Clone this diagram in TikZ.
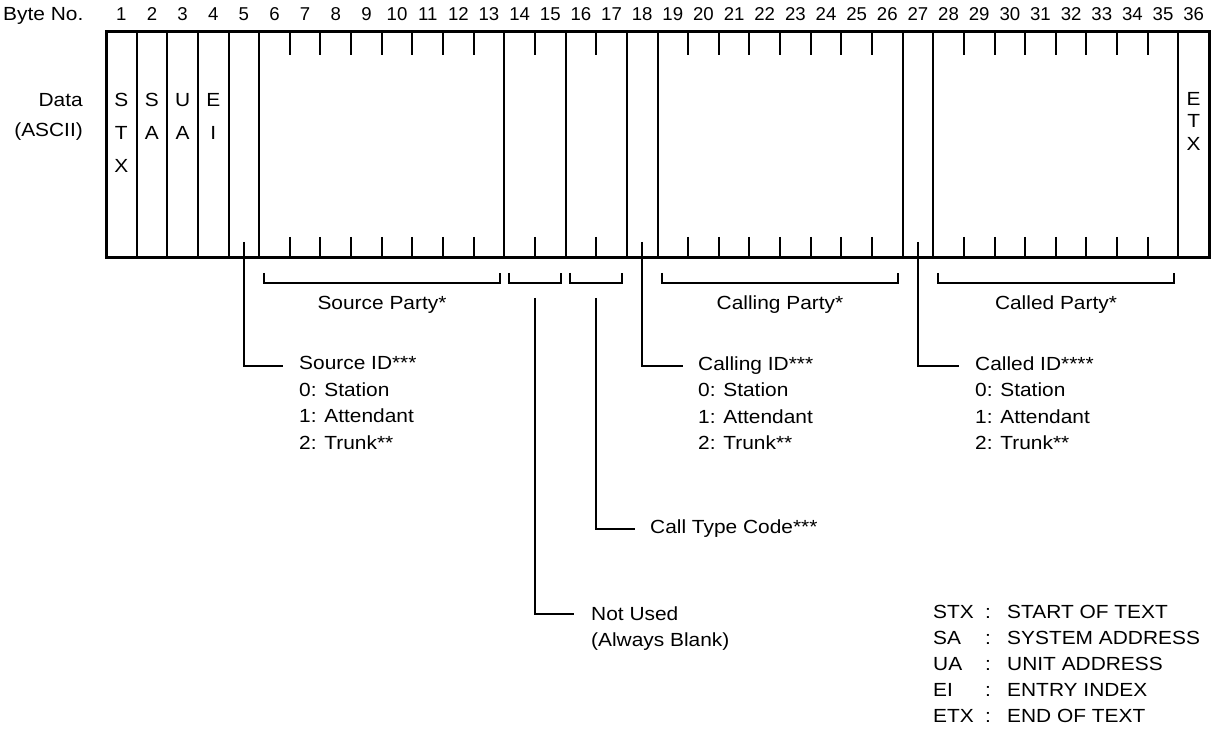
\documentclass[tikz,border=0pt]{standalone}
\usepackage{fontspec}
\setmainfont{Liberation Sans}[FakeStretch=1.1]
\newfontfamily\numfont{Liberation Sans}
\usetikzlibrary{positioning}

\def\cw{30.639}

\tikzset{
  txt/.style={font=\fontsize{19}{26.5}\selectfont, inner sep=0pt, align=left},
  numtxt/.style={font=\numfont\fontsize{18.6}{22}\selectfont, inner sep=0pt, anchor=base},
  cellltr/.style={font=\fontsize{19}{33}\selectfont, inner sep=0pt, align=center, anchor=north},
  legtxt/.style={txt, anchor=north west, font=\fontsize{19}{26}\selectfont},
  frame/.style={line width=3pt},
  divider/.style={line width=2pt},
  conn/.style={line width=2pt}
}

\begin{document}
\begin{tikzpicture}[x=1pt, y=-1pt]
  \useasboundingbox (0,0) rectangle (1211,730);

  % Byte numbers
  \node[txt, anchor=base west] (byteno) at (3,20.8) {Byte No.};
  \foreach \i in {1,...,36}
    \node[numtxt] (n\i) at ({106+(\i-0.5)*\cw},20.8) {\i};

  % Cadre
  \draw[frame] (106,32) rectangle (1209,258);
  \foreach \b in {1,2,3,4,5,13,15,17,18,26,27,35}
    \draw[divider] ({106+\b*\cw},32) -- ({106+\b*\cw},258);
  \foreach \b in {6,7,8,9,10,11,12,14,16,19,20,21,22,23,24,25,28,29,30,31,32,33,34} {
    \draw[divider] ({106+\b*\cw},32) -- ({106+\b*\cw},55);
    \draw[divider] ({106+\b*\cw},237) -- ({106+\b*\cw},258);
  }

  % Data
  \node[txt, align=right, anchor=north east, font=\fontsize{19}{30}\selectfont] (data) at (83,93.2) {Data\\(ASCII)};
  \node[cellltr] (stx) at ({106+0.5*\cw},93.2) {S\\T\\X};
  \node[cellltr] (sa) at ({106+1.5*\cw},93.2) {S\\A};
  \node[cellltr] (ua) at ({106+2.5*\cw},93.2) {U\\A};
  \node[cellltr] (ei) at ({106+3.5*\cw},93.2) {E\\I};
  \node[cellltr, font=\fontsize{19}{22.5}\selectfont] (etx) at ({106+35.5*\cw},92.2) {E\\T\\X};

  % Accolades
  \foreach \l/\r/\name in {5/13/srcbr,13/15/nubr,15/17/ctbr,18/26/cgbr,27/35/cdbr} {
    \coordinate (\name-a) at ({106+\l*\cw+4.5},273);
    \coordinate (\name-b) at ({106+\r*\cw-4.5},273);
    \draw[conn] (\name-a) -- ++(0,10) -| (\name-b);
  }
  \node[txt] (srcparty) at (382,305) {Source Party*};
  \node[txt] (cgparty) at (780,305) {Calling Party*};
  \node[txt] (cdparty) at (1056,305) {Called Party*};

  % ID fields
  \node[txt, anchor=north west] (srcid) at (299,356.2) {Source ID***\\0: Station\\1: Attendant\\2: Trunk**};
  \node[txt, anchor=north west] (cgid) at (698,356.2) {Calling ID***\\0: Station\\1: Attendant\\2: Trunk**};
  \node[txt, anchor=north west] (cdid) at (975,356.2) {Called ID****\\0: Station\\1: Attendant\\2: Trunk**};
  \node[txt, anchor=west] (ctcode) at (650,529) {Call Type Code***};
  \node[txt, anchor=north west] (notused) at (591,606.2) {Not Used\\(Always Blank)};

  % Liaisons
  \coordinate (tap5) at ({106+4.5*\cw},242);
  \coordinate (tap18) at ({106+17.5*\cw},242);
  \coordinate (tap27) at ({106+26.5*\cw},242);
  \coordinate (srcend) at (283,366);
  \coordinate (cgend) at (683,366);
  \coordinate (cdend) at (959,366);
  \draw[conn] (tap5) |- (srcend);
  \draw[conn] (tap18) |- (cgend);
  \draw[conn] (tap27) |- (cdend);
  \coordinate (nustem) at ({106+14*\cw},298);
  \coordinate (ctstem) at ({106+16*\cw},298);
  \coordinate (nuend) at (574,614);
  \coordinate (ctend) at (635,529);
  \draw[conn] (nustem) |- (nuend);
  \draw[conn] (ctstem) |- (ctend);

  % Legende
  \node[legtxt] (legabbr) at (933,605.5) {STX\\SA\\UA\\EI\\ETX};
  \node[legtxt] (legcolon) at (985,605.5) {\vphantom{S}:\\:\\:\\:\\:};
  \node[legtxt] (legtext) at (1007,605.5) {START OF TEXT\\SYSTEM ADDRESS\\UNIT ADDRESS\\ENTRY INDEX\\END OF TEXT};
\end{tikzpicture}
\end{document}
